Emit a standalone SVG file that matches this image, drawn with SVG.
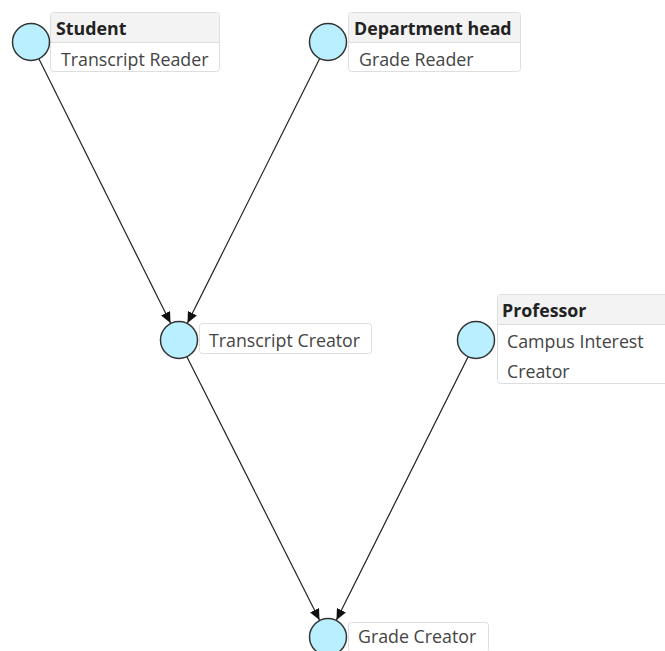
<svg xmlns="http://www.w3.org/2000/svg" width="665" height="651" viewBox="0 0 665 651">
  <style>
    .node circle { fill: #b9efff; stroke: #333; stroke-width: 1.5; }
    .box { fill: #fff; stroke: #dedede; stroke-width: 1; }
    .head { fill: #f3f3f3; }
    .sep { stroke: #dedede; stroke-width: 1; }
    .title { font-family: "Open Sans", "Noto Sans", sans-serif; font-size: 17.8px; font-weight: bold; fill: #222; }
    .label { font-family: "Open Sans", "Noto Sans", sans-serif; font-size: 17.8px; fill: #444; }
    .edges line { stroke: #222; stroke-width: 1.2; marker-end: url(#arrow); }
  </style>
  <defs>
    <marker id="arrow" markerUnits="userSpaceOnUse" markerWidth="12" markerHeight="10" refX="11" refY="5" orient="auto">
      <path d="M0,0 L11,5 L0,10 z" fill="#111"/>
    </marker>
  </defs>
  <rect width="665" height="651" fill="#fff"/>

  <g class="edges">
    <line x1="39" y1="59" x2="170.5" y2="323"/>
    <line x1="319.7" y1="58.6" x2="187.5" y2="323"/>
    <line x1="187" y1="357" x2="319.5" y2="620"/>
    <line x1="468" y1="357" x2="336.5" y2="620"/>
  </g>

  <g id="student" class="node">
    <rect class="box" x="50.5" y="12.5" width="169" height="59" rx="3"/>
    <path class="head" d="M51,42 V16 a3,3 0 0 1 3,-3 H216 a3,3 0 0 1 3,3 V42 z"/>
    <line class="sep" x1="51" y1="42.5" x2="219" y2="42.5"/>
    <text class="title" x="56" y="35">Student</text>
    <text class="label" x="61" y="66">Transcript Reader</text>
    <circle cx="31" cy="42" r="18.5"/>
  </g>

  <g id="department-head" class="node">
    <rect class="box" x="348.5" y="12.5" width="172" height="59" rx="3"/>
    <path class="head" d="M349,42 V16 a3,3 0 0 1 3,-3 H517 a3,3 0 0 1 3,3 V42 z"/>
    <line class="sep" x1="349" y1="42.5" x2="520" y2="42.5"/>
    <text class="title" x="354" y="35">Department head</text>
    <text class="label" x="359" y="66">Grade Reader</text>
    <circle cx="328" cy="42" r="18.5"/>
  </g>

  <g id="transcript-creator" class="node">
    <rect class="box" x="199.5" y="323.5" width="172" height="30" rx="3"/>
    <text class="label" x="209" y="347">Transcript Creator</text>
    <circle cx="179" cy="340" r="18.5"/>
  </g>

  <g id="professor" class="node">
    <rect class="box" x="497.5" y="294.5" width="175" height="89" rx="3"/>
    <path class="head" d="M498,324 V298 a3,3 0 0 1 3,-3 H672 V324 z"/>
    <line class="sep" x1="498" y1="324.5" x2="672" y2="324.5"/>
    <text class="title" x="502" y="317">Professor</text>
    <text class="label" x="507" y="348">Campus Interest</text>
    <text class="label" x="507" y="378">Creator</text>
    <circle cx="476" cy="340" r="18.5"/>
  </g>

  <g id="grade-creator" class="node">
    <rect class="box" x="348.5" y="622.5" width="140" height="30" rx="3"/>
    <text class="label" x="358" y="643">Grade Creator</text>
    <circle cx="328" cy="637" r="18.5"/>
  </g>
</svg>
